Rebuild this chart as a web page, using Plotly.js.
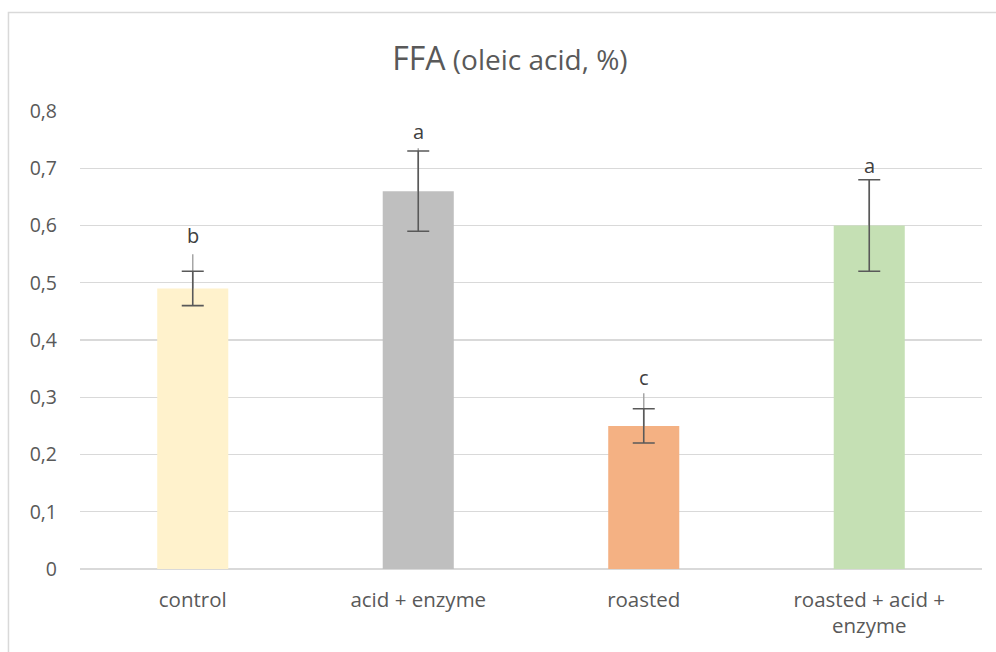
<!DOCTYPE html>
<html>
<head>
<meta charset="utf-8">
<script src="https://cdn.plot.ly/plotly-3.0.1.min.js"></script>
<style>
html,body{margin:0;padding:0;background:#fff;}
#chart{width:996px;height:652px;}
</style>
</head>
<body>
<div id="chart"></div>
<script>
// Data
const categories = ["control", "acid + enzyme", "roasted", "roasted + acid +<br>enzyme"];
const ffaValues = [0.49, 0.66, 0.25, 0.60];
const errPlus = [0.03, 0.07, 0.03, 0.08];
const errMinus = [0.03, 0.07, 0.03, 0.08];
const lightErrPlus = [0.06, 0.075, 0.057, 0.08];
const letters = ["b", "a", "c", "a"];
const letterY = [0.583, 0.765, 0.335, 0.705];
const barColors = ["#FFF2CC", "#BFBFBF", "#F4B183", "#C5E0B4"];
const yTicks = [0, 0.1, 0.2, 0.3, 0.4, 0.5, 0.6, 0.7, 0.8];

const fontFam = "'Open Sans', sans-serif";

const lightTrace = {
  type: "bar",
  x: categories,
  y: ffaValues,
  width: 0.315,
  marker: {color: barColors},
  error_y: {type: "data", symmetric: false, array: lightErrPlus, arrayminus: [0,0,0,0],
            color: "#A6A6A6", thickness: 1.5, width: 0},
  hoverinfo: "skip",
  showlegend: false
};
const darkTrace = {
  type: "bar",
  x: categories,
  y: ffaValues,
  width: 0.315,
  marker: {color: "rgba(0,0,0,0)"},
  error_y: {type: "data", symmetric: false, array: errPlus, arrayminus: errMinus,
            color: "#595959", thickness: 1.6, width: 11},
  showlegend: false
};

const annotations = categories.map((c, i) => ({
  x: c, y: letterY[i], xref: "x", yref: "y", text: letters[i], showarrow: false,
  font: {family: fontFam, size: 20, color: "#404040"}
}));

const layout = {
  width: 996, height: 652,
  margin: {l: 80, r: 14, t: 111, b: 83},
  paper_bgcolor: "#fff", plot_bgcolor: "#fff",
  separators: ",.",
  barmode: "overlay",
  title: {
    text: "<span style='font-size:32px'>FFA</span> (oleic acid, %)",
    font: {family: fontFam, size: 28, color: "#595959"},
    x: 0.512, xanchor: "center", y: 0.907, yanchor: "middle"
  },
  xaxis: {
    type: "category",
    tickfont: {family: fontFam, size: 20.5, color: "#595959"},
    showgrid: false, showline: false, ticks: "", zeroline: false,
    ticklabelstandoff: 16
  },
  yaxis: {
    range: [0, 0.8],
    tickvals: yTicks,
    ticktext: yTicks.map(v => v === 0 ? "0" : v.toFixed(1).replace(".", ",")),
    tickfont: {family: fontFam, size: 19.5, color: "#595959"},
    gridcolor: "#D9D9D9", gridwidth: 1.3,
    zeroline: true, zerolinecolor: "#D9D9D9", zerolinewidth: 1.3,
    showline: false, ticks: "", ticklabelstandoff: 22
  },
  annotations: annotations,
  shapes: [{
    type: "rect", xref: "paper", yref: "paper",
    x0: -0.0793, x1: 1.2, y0: -0.5, y1: 1.2148,
    line: {color: "#D9D9D9", width: 1.5}, fillcolor: "rgba(0,0,0,0)", layer: "below"
  }]
};

Plotly.newPlot("chart", [lightTrace, darkTrace], layout, {displayModeBar: false, staticPlot: true});
</script>
</body>
</html>
